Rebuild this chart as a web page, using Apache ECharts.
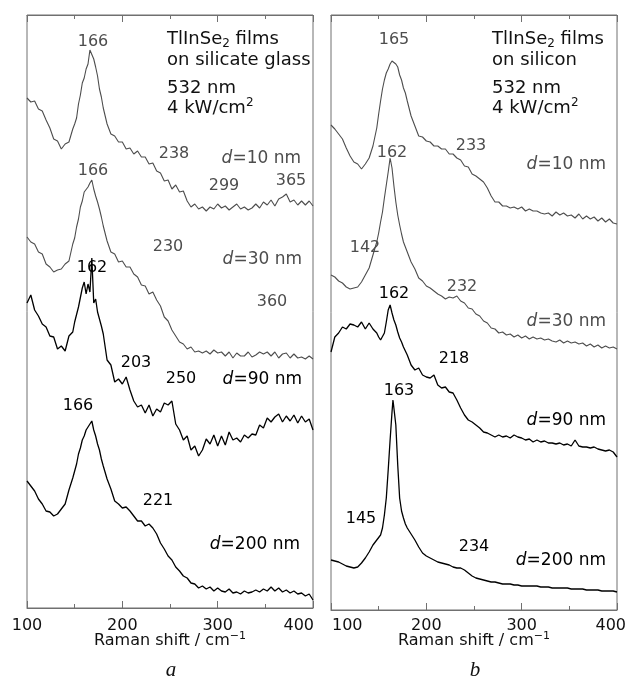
<!DOCTYPE html>
<html><head><meta charset="utf-8">
<script src="https://cdn.jsdelivr.net/npm/echarts@6/dist/echarts.min.js"></script>
<style>html,body{margin:0;padding:0;background:#fff}#c{width:625px;height:680px}</style>
</head><body><div id="c"></div>
<script>
// Raman shift (cm^-1) sample positions
const shift = [100,104,108,112,116,120,124,128,132,136,140,144,148,
150,152,154,156,158,160,162,164,166,168,170,172,174,176,178,180,
184,188,192,196,200,204,208,212,216,220,224,228,232,236,240,244,248,252,256,260,264,268,272,276,280,
284,288,292,296,300,304,308,312,316,320,324,328,332,336,340,344,348,352,356,360,364,368,372,376,380,
384,388,392,396,400];
const shiftB200 = [100,104,108,112,116,120,124,128,132,136,140,144,148,
150,152,154,156,158,160,162,164,165,166,168,170,172,174,176,178,180,
184,188,192,196,200,204,208,212,216,220,224,228,232,236,240,244,248,252,256,260,264,268,272,276,280,
284,288,292,296,300,304,308,312,316,320,324,328,332,336,340,344,348,352,356,360,364,368,372,376,380,
384,388,392,396,400];

// (a) films on silicate glass, intensity (a.u., offset)
const glass10 = [510,506,507,499,497,488,480,469,467,459,464,466,479,
484,490,504,513,525,530,539,544,558,556,549,541,532,519,511,500,
484,474,472,466,466,459,460,454,457,451,451,444,445,437,435,427,428,419,423,416,417,407,401,404,399,
401,397,401,399,404,400,402,398,401,404,399,401,398,400,404,400,406,403,408,402,409,411,414,406,408,
403,407,403,407,402];
const glass30 = [371,366,364,356,354,344,341,336,338,339,344,347,364,
370,381,389,401,407,416,417,421,425,428,419,412,406,399,391,382,
367,356,354,346,347,341,341,334,331,323,322,314,316,308,302,291,287,278,272,266,264,259,261,256,257,
255,257,254,258,255,256,252,256,250,255,252,252,256,251,253,256,254,256,252,256,250,254,255,250,254,
250,251,249,252,249];
const glass90 = [305,313,298,292,284,281,272,271,259,262,257,272,276,
286,288,301,300,320,326,314,324,316,350,305,309,296,294,282,274,
248,243,226,229,224,231,218,207,201,203,195,203,192,199,196,205,203,207,184,178,168,172,158,162,152,
158,169,164,173,162,172,163,176,168,170,166,173,170,174,173,183,180,190,186,191,194,186,192,187,193,
185,192,186,189,178];
const glass200 = [127,122,117,109,104,97,96,92,94,99,104,118,130,
137,144,154,160,168,172,178,180,184,187,178,172,164,158,149,142,
129,119,107,104,100,101,97,92,87,87,82,84,80,74,65,59,52,48,41,37,32,30,25,24,20,
22,19,21,17,20,17,16,19,15,16,14,17,15,16,18,16,19,17,21,17,20,16,18,15,17,
14,15,12,14,8];

// (b) films on silicon
const si10 = [485,481,476,471,462,454,448,446,441,446,452,464,482,
496,509,521,530,537,541,546,549,550,546,543,535,530,522,517,509,
494,484,474,473,469,468,464,464,461,461,456,456,452,450,444,443,436,434,431,428,422,414,408,408,404,
404,402,403,401,403,399,401,399,399,397,396,397,394,398,395,397,394,395,392,396,391,394,391,393,389,
392,388,391,387,386];
const si30 = [335,333,329,327,323,321,322,323,328,335,342,355,368,
377,388,398,412,425,438,452,442,424,408,395,385,376,368,363,358,
348,341,332,329,324,322,319,316,314,311,313,312,314,309,307,302,301,296,294,289,287,282,281,277,278,
275,276,273,275,272,274,271,273,271,272,270,271,269,268,270,267,269,267,268,266,267,264,266,263,265,
262,264,262,263,261];
const si90 = [258,273,277,283,281,286,285,283,288,281,287,281,277,
273,270,272,277,288,300,305,297,290,285,278,272,268,263,259,255,
245,240,242,235,233,232,235,225,222,223,218,217,210,202,195,190,188,185,182,178,177,175,173,175,173,
174,172,175,173,172,170,171,168,170,168,169,167,167,166,167,165,166,164,170,164,163,163,162,163,161,
160,159,160,158,153];
const si200 = [50,49,48,46,44,43,42,43,47,52,58,65,70,
72,75,82,95,112,140,170,198,210,208,185,145,112,99,92,86,82,
76,70,63,57,54,52,50,48,47,46,45,43,42,42,40,37,34,32,31,30,29,28,28,27,26,
26,26,25,25,24,24,24,24,24,23,23,23,22,22,22,22,22,21,21,21,21,20,20,20,20,
19,19,19,19,18];

const xTicks = [100, 200, 300, 400];
const axisTitleMain = 'Raman shift / cm';
const axisTitleSup = '\u22121';

const GRAY = '#4d4d4d', BLACK = '#000';
const SANS = '"DejaVu Sans", "Liberation Sans", sans-serif';

const chart = echarts.init(document.getElementById('c'), null, {renderer: 'canvas'});

function xAx(grid, pos) {
  return {
    gridIndex: grid, type: 'value', min: 100, max: 400, interval: 100, position: pos,
    axisLine: {show: true, onZero: false, lineStyle: {color: '#707070', width: 1}},
    axisTick: {show: true, inside: true, length: 7, lineStyle: {color: '#707070'}},
    minorTick: {show: true, splitNumber: 2, length: 4, lineStyle: {color: '#707070'}},
    splitLine: {show: false}, minorSplitLine: {show: false},
    axisLabel: {show: false}
  };
}
function ser(xi, yi, xs, ys, color, w) {
  return {
    type: 'line', xAxisIndex: xi, yAxisIndex: yi, showSymbol: false, symbol: 'none',
    data: xs.map((x, i) => [x, ys[i]]),
    lineStyle: {color: color, width: w}, itemStyle: {color: color},
    animation: false, silent: true
  };
}

chart.setOption({
  animation: false,
  backgroundColor: '#fff',
  grid: [
    {left: 27, top: 15, width: 286, height: 593, show: true, borderColor: '#707070', borderWidth: 1, outerBoundsMode: 'none', containLabel: false},
    {left: 331, top: 15, width: 286, height: 595, show: true, borderColor: '#707070', borderWidth: 1, outerBoundsMode: 'none', containLabel: false}
  ],
  xAxis: [xAx(0, 'bottom'), xAx(0, 'top'), xAx(1, 'bottom'), xAx(1, 'top')],
  yAxis: [
    {gridIndex: 0, type: 'value', min: 0, max: 593, show: false},
    {gridIndex: 1, type: 'value', min: 0, max: 595, show: false}
  ],
  series: [
    ser(0, 0, shift, glass10, GRAY, 1.1),
    ser(0, 0, shift, glass30, GRAY, 1.1),
    ser(0, 0, shift, glass90, BLACK, 1.3),
    ser(0, 0, shift, glass200, BLACK, 1.3),
    ser(2, 1, shift, si10, GRAY, 1.1),
    ser(2, 1, shift, si30, GRAY, 1.1),
    ser(2, 1, shift, si90, BLACK, 1.3),
    ser(2, 1, shiftB200, si200, BLACK, 1.3)
  ]
});

// ---- annotations (layout) ----
function t(x, y, text, opt) {
  const style = Object.assign({
    text: text, fill: '#111', font: '16px ' + SANS,
    align: 'center', verticalAlign: 'middle', textAlign: 'center', textVerticalAlign: 'middle'
  }, opt || {});
  return {type: 'text', x: x, y: y, silent: true, style: style};
}
function dLabel(xr, y, txt, color) {
  return t(xr, y, '{i|d}' + txt, {fill: color, font: '17px ' + SANS, align: 'right', textAlign: 'right',
    rich: {i: {fontStyle: 'italic', fontSize: 17, fontFamily: SANS, fill: color}}});
}
function titleLines(x, second) {
  const base = {fill: '#111', font: '18px ' + SANS, align: 'left', textAlign: 'left'};
  return [
    t(x, 39, '{m|TlInSe}{s|2}{m| films}', Object.assign({}, base, {rich: {
      m: {fontSize: 18, fontFamily: SANS, lineHeight: 22, verticalAlign: 'middle', fill: '#111'},
      s: {fontSize: 12, fontFamily: SANS, lineHeight: 12, verticalAlign: 'bottom', fill: '#111'}}})),
    t(x, 60, second, base),
    t(x, 88, '532 nm', base),
    t(x, 108, '{m|4 kW/cm}{p|2}', Object.assign({}, base, {rich: {
      m: {fontSize: 18, fontFamily: SANS, lineHeight: 22, verticalAlign: 'middle', fill: '#111'},
      p: {fontSize: 12, fontFamily: SANS, lineHeight: 12, verticalAlign: 'top', fill: '#111'}}}))
  ];
}

const g = [];
// panel a
g.push(t(93, 42, '166', {fill: GRAY}));
g.push(...titleLines(167, 'on silicate glass'));
g.push(t(174, 154, '238', {fill: GRAY}));
g.push(dLabel(301, 159, '=10 nm', GRAY));
g.push(t(93, 171, '166', {fill: GRAY}));
g.push(t(224, 186, '299', {fill: GRAY}));
g.push(t(291, 181, '365', {fill: GRAY}));
g.push(t(168, 247, '230', {fill: GRAY}));
g.push(dLabel(302, 260, '=30 nm', GRAY));
g.push(t(92, 268, '162', {fill: BLACK}));
g.push(t(272, 302, '360', {fill: GRAY}));
g.push(t(136, 363, '203', {fill: BLACK}));
g.push(t(181, 379, '250', {fill: BLACK}));
g.push(dLabel(302, 380, '=90 nm', BLACK));
g.push(t(78, 406, '166', {fill: BLACK}));
g.push(t(158, 501, '221', {fill: BLACK}));
g.push(dLabel(300, 545, '=200 nm', BLACK));
// panel b
g.push(t(394, 40, '165', {fill: GRAY}));
g.push(...titleLines(492, 'on silicon'));
g.push(t(471, 146, '233', {fill: GRAY}));
g.push(dLabel(606, 165, '=10 nm', GRAY));
g.push(t(392, 153, '162', {fill: GRAY}));
g.push(t(365, 248, '142', {fill: GRAY}));
g.push(t(462, 287, '232', {fill: GRAY}));
g.push(dLabel(606, 322, '=30 nm', GRAY));
g.push(t(394, 294, '162', {fill: BLACK}));
g.push(t(454, 359, '218', {fill: BLACK}));
g.push(dLabel(606, 421, '=90 nm', BLACK));
g.push(t(399, 391, '163', {fill: BLACK}));
g.push(t(361, 519, '145', {fill: BLACK}));
g.push(t(474, 547, '234', {fill: BLACK}));
g.push(dLabel(606, 561, '=200 nm', BLACK));

// tick labels through the axis scale
[[0, 'a'], [2, 'b']].forEach(([xi, letter], p) => {
  xTicks.forEach((v, k) => {
    const px = chart.convertToPixel({xAxisIndex: xi}, v);
    let al = 'center', xx = px;
    if (p === 0 && k === xTicks.length - 1) { al = 'right'; xx = px + 1; }
    if (p === 1 && k === 0) { al = 'left'; xx = px + 1; }
    if (p === 1 && k === xTicks.length - 1) { al = 'right'; xx = px + 9; }
    g.push(t(xx, 626, String(v), {fill: '#111', font: '16px ' + SANS, align: al, textAlign: al}));
  });
  const c0 = chart.convertToPixel({xAxisIndex: xi}, 100), c1 = chart.convertToPixel({xAxisIndex: xi}, 400);
  const cx = (c0 + c1) / 2;
  g.push(t(cx, 641, '{m|' + axisTitleMain + '}{p|' + axisTitleSup + '}', {fill: '#111', font: '16px ' + SANS,
    rich: {m: {fontSize: 16, fontFamily: SANS, lineHeight: 20, verticalAlign: 'middle', fill: '#111'},
           p: {fontSize: 11, fontFamily: SANS, lineHeight: 11, verticalAlign: 'top', fill: '#111'}}}));
  g.push(t(cx + 1, 670, letter, {fill: '#111', font: 'italic 21px "Liberation Serif", "DejaVu Serif", serif'}));
});

chart.setOption({graphic: {elements: g}});
</script>
</body></html>
